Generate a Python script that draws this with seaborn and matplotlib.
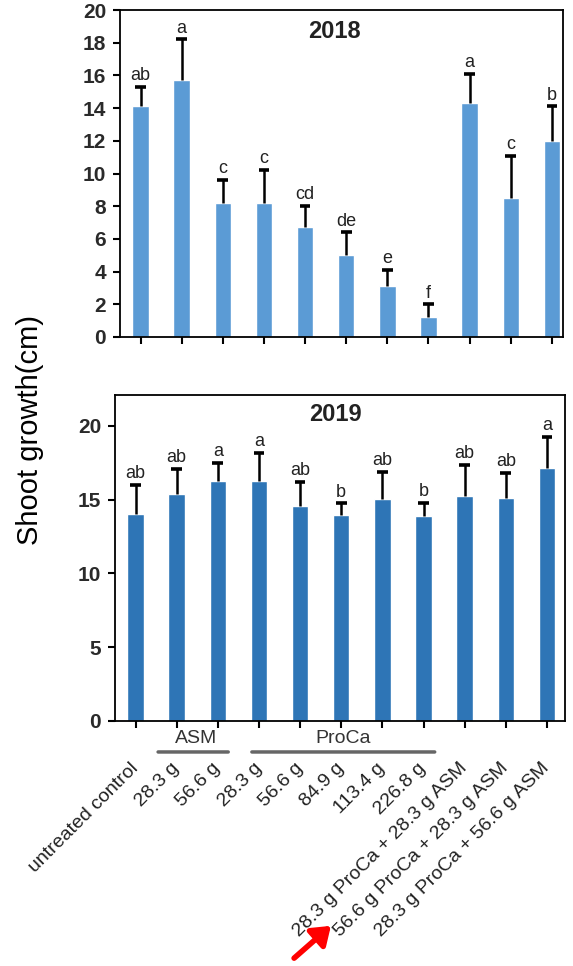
import matplotlib
matplotlib.use("Agg")
import matplotlib.pyplot as plt
import seaborn as sns
import pandas as pd

# Treatments (x-axis)
treatments = [
    "untreated control", "28.3 g", "56.6 g", "28.3 g", "56.6 g", "84.9 g",
    "113.4 g", "226.8 g", "28.3 g ProCa + 28.3 g ASM",
    "56.6 g ProCa + 28.3 g ASM", "28.3 g ProCa + 56.6 g ASM",
]

# 2018 season: mean shoot growth (cm), SD and letter groups
growth_2018 = [14.1, 15.7, 8.2, 8.2, 6.7, 5.0, 3.1, 1.2, 14.3, 8.5, 12.0]
sd_2018 = [1.2, 2.5, 1.4, 2.0, 1.3, 1.4, 1.0, 0.8, 1.8, 2.6, 2.1]
letters_2018 = ["ab", "a", "c", "c", "cd", "de", "e", "f", "a", "c", "b"]

# 2019 season
growth_2019 = [14.0, 15.4, 16.3, 16.3, 14.6, 13.95, 15.05, 13.9, 15.25, 15.1, 17.15]
sd_2019 = [2.0, 1.7, 1.2, 1.9, 1.6, 0.8, 1.85, 0.9, 2.1, 1.7, 2.1]
letters_2019 = ["ab", "ab", "a", "a", "ab", "b", "ab", "b", "ab", "ab", "a"]

yticks_2018 = [0, 2, 4, 6, 8, 10, 12, 14, 16, 18, 20]
yticks_2019 = [0, 5, 10, 15, 20]

sns.set_theme(style="ticks")
plt.rcParams["font.family"] = ["Liberation Sans", "DejaVu Sans"]

fig = plt.figure(figsize=(5.73, 9.66), dpi=100)
ax1 = fig.add_axes([120 / 573, 1 - 337 / 966, 443 / 573, 327 / 966])
ax2 = fig.add_axes([115 / 573, 1 - 721 / 966, 450 / 573, 326 / 966])


def draw_panel(ax, means, sds, letters, color, ylim, xlim, yticks, title,
               title_x, title_y):
    pos = list(range(len(means)))
    df = pd.DataFrame({"pos": pos, "mean": means})
    sns.barplot(data=df, x="pos", y="mean", ax=ax, color=color,
                saturation=1, width=0.4, errorbar=None)
    tops = [m + s for m, s in zip(means, sds)]
    # upper-only error bars with caps
    ax.vlines(pos, means, tops, color="black", linewidth=1.8, zorder=3)
    ax.hlines(tops, [p - 0.13 for p in pos], [p + 0.13 for p in pos],
              color="black", linewidth=2.6, zorder=3)
    for p, t, lab in zip(pos, tops, letters):
        ax.annotate(lab, (p, t), xytext=(0, 2), textcoords="offset points",
                    ha="center", va="bottom", fontsize=13, color="#222222")
    ax.set_ylim(*ylim)
    ax.set_xlim(*xlim)
    ax.set_yticks(yticks)
    ax.set_yticklabels([str(v) for v in yticks], fontsize=15,
                       fontweight="bold", color="#2a2a2a")
    ax.set_xlabel("")
    ax.set_ylabel("")
    for sp in ax.spines.values():
        sp.set_visible(True)
        sp.set_color("black")
        sp.set_linewidth(1.3)
    ax.tick_params(axis="both", direction="out", length=5, width=1.5,
                   color="black")
    ax.tick_params(axis="y", pad=5)
    ax.text(title_x, title_y, title, transform=ax.transAxes, ha="center",
            va="center", fontsize=17, fontweight="bold", color="#222222")


draw_panel(ax1, growth_2018, sd_2018, letters_2018, "#5B9BD5",
           (0, 20), (-0.5, 10.27), yticks_2018, "2018", 0.485, 0.935)
ax1.set_xticklabels([])

draw_panel(ax2, growth_2019, sd_2019, letters_2019, "#2E75B6",
           (0, 22.1), (-0.5, 10.44), yticks_2019, "2019", 0.49, 0.94)
ax2.set_xticks(range(len(treatments)))
ax2.set_xticklabels(treatments, rotation=45, ha="right", va="center",
                    rotation_mode="anchor", fontsize=14, color="#222222")
ax2.tick_params(axis="x", pad=27)

# group brackets for the two single-product treatments
groups = [("ASM", 0.48, 2.32, 1.48), ("ProCa", 2.76, 7.34, 5.04)]
for name, x0, x1, xc in groups:
    ax2.annotate("", xy=(x0, -0.095), xytext=(x1, -0.095),
                 xycoords=("data", "axes fraction"),
                 arrowprops=dict(arrowstyle="-", color="#666666", linewidth=2.5))
    ax2.text(xc, -0.055, name, transform=ax2.get_xaxis_transform(),
             ha="center", va="center", fontsize=14, color="#333333",
             clip_on=False)

fig.text(30 / 573, 1 - 430 / 966, "Shoot growth(cm)", rotation=90,
         ha="center", va="center", fontsize=21, color="black")

# red pointer at the highlighted treatment
fig.patches.append(matplotlib.patches.FancyArrowPatch(
    (292 / 573, 1 - 960 / 966), (333 / 573, 1 - 924 / 966),
    transform=fig.transFigure, arrowstyle="-|>,head_length=7,head_width=5",
    mutation_scale=1.5, color="#FF0000", linewidth=4))

fig.savefig("out.png", dpi=100)
